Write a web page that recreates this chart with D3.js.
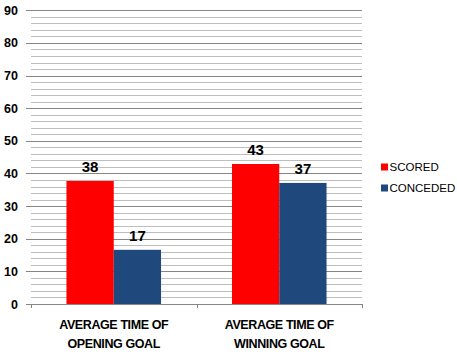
<!DOCTYPE html>
<html>
<head>
<meta charset="utf-8">
<script src="https://cdn.jsdelivr.net/npm/d3@7"></script>
<style>
html,body{margin:0;padding:0;background:#fff;}
svg{display:block;font-family:"Liberation Sans",Arial,sans-serif;}
</style>
</head>
<body>
<svg id="chart" width="457" height="354"></svg>
<script>
const categories = ["AVERAGE TIME OF OPENING GOAL", "AVERAGE TIME OF WINNING GOAL"];
const categoryLines = [["AVERAGE TIME OF", "OPENING GOAL"], ["AVERAGE TIME OF", "WINNING GOAL"]];
const seriesNames = ["SCORED", "CONCEDED"];
const scored = [37.7, 42.9];
const conceded = [16.6, 37.1];
const seriesColors = ["#FF0000", "#1F497D"];
const majorTicks = [0, 10, 20, 30, 40, 50, 60, 70, 80, 90];

(function () {
const svg = d3.select("#chart");
const plotLeft = 31, plotRight = 362, plotTop = 10.3, plotBottom = 304;

const y = d3.scaleLinear().domain([0, 90]).range([plotBottom, plotTop]);
const x = d3.scaleBand().domain(categories).range([plotLeft, plotRight]).paddingInner(0).paddingOuter(0);
const xs = d3.scaleBand().domain(seriesNames).range([0, x.bandwidth()]).paddingInner(0).paddingOuter(0.75);

// minor gridlines
const minorTicks = d3.range(2, 90, 2).filter(v => v % 10 !== 0);
const minorAxis = d3.axisLeft(y).tickValues(minorTicks).tickSize(-(plotRight - plotLeft)).tickFormat("");
const gMinor = svg.append("g").attr("transform", `translate(${plotLeft},0)`).call(minorAxis);
gMinor.select(".domain").remove();
gMinor.selectAll("line").attr("stroke", "#BEBEBE").attr("stroke-width", 1)
  .attr("shape-rendering", "crispEdges");

// major gridlines with labels
const majorAxis = d3.axisLeft(y).tickValues(majorTicks).tickSize(-(plotRight - 26)).tickPadding(8).tickFormat(d3.format("d"));
const gMajor = svg.append("g").attr("transform", `translate(26,0)`).call(majorAxis);
gMajor.select(".domain").remove();
gMajor.selectAll("line").attr("stroke", "#868686").attr("stroke-width", 1)
  .attr("shape-rendering", "crispEdges");
gMajor.selectAll("text").attr("font-size", "12.5px").attr("font-weight", "bold")
  .attr("fill", "#000").attr("font-family", "'Liberation Sans', Arial, sans-serif");

// category separators on the base line
const sepX = [plotLeft].concat(categories.map(c => x(c) + x.bandwidth()));
svg.append("g").selectAll("line").data(sepX).join("line")
  .attr("x1", d => Math.round(d) + 0.5).attr("x2", d => Math.round(d) + 0.5)
  .attr("y1", y(0)).attr("y2", y(0) + 4)
  .attr("stroke", "#868686");

// bars
const data = categories.map((c, i) => ({cat: c, vals: [scored[i], conceded[i]]}));
const groups = svg.append("g").selectAll("g").data(data).join("g")
  .attr("transform", d => `translate(${x(d.cat)},0)`);
groups.selectAll("rect").data(d => d.vals.map((v, j) => ({s: seriesNames[j], v, j}))).join("rect")
  .attr("x", d => xs(d.s))
  .attr("width", xs.bandwidth())
  .attr("y", d => y(d.v))
  .attr("height", d => y(0) - y(d.v))
  .attr("fill", d => seriesColors[d.j]);
groups.selectAll("text").data(d => d.vals.map((v, j) => ({s: seriesNames[j], v, j}))).join("text")
  .attr("x", d => xs(d.s) + xs.bandwidth() / 2)
  .attr("y", d => y(d.v) - 9)
  .attr("text-anchor", "middle")
  .attr("font-size", "15px").attr("font-weight", "bold").attr("fill", "#000")
  .text(d => d3.format(".0f")(d.v));

// category labels
const catG = svg.append("g").selectAll("text").data(categories).join("text")
  .attr("text-anchor", "middle")
  .attr("font-size", "12.5px").attr("font-weight", "bold").attr("fill", "#000")
  .attr("letter-spacing", "-0.4px");
catG.selectAll("tspan").data((d, i) => categoryLines[i]).join("tspan")
  .attr("x", function() { const c = d3.select(this.parentNode).datum(); return x(c) + x.bandwidth() / 2; })
  .attr("y", (d, i) => 329 + i * 19)
  .text(d => d);

// legend
const legend = svg.append("g").selectAll("g").data(seriesNames).join("g")
  .attr("transform", (d, i) => `translate(381,${163.5 + i * 21})`);
legend.append("rect").attr("width", 7).attr("height", 7).attr("fill", (d, i) => seriesColors[i]);
legend.append("text").attr("x", 8.5).attr("y", 7.2).attr("font-size", "11.5px").attr("fill", "#000").text(d => d);
})();
</script>
</body>
</html>
